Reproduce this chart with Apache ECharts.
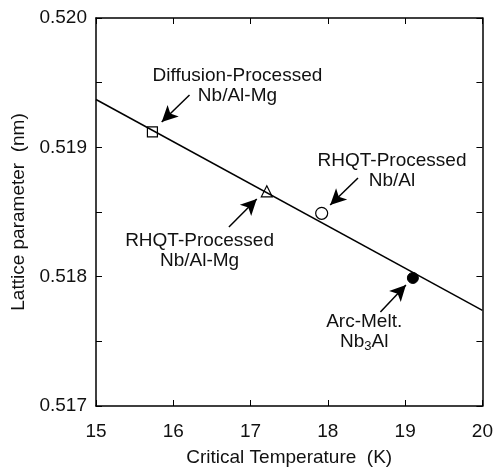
<!DOCTYPE html>
<html>
<head>
<meta charset="utf-8">
<script src="https://cdn.jsdelivr.net/npm/echarts@6/dist/echarts.min.js"></script>
<style>html,body{margin:0;padding:0;background:#fff;}#c{width:496px;height:472px;}</style>
</head>
<body>
<div id="c"></div>
<script>
// Data
var xTicks = [15, 16, 17, 18, 19, 20];
var yTicks = [0.517, 0.518, 0.519, 0.520];
var fitLineX = [15, 20];
var fitLineY = [0.51937, 0.51774];
var diffusionPoint = [15.73, 0.51912];
var rhqtMgPoint = [17.21, 0.51866];
var rhqtPoint = [17.92, 0.51849];
var arcMeltPoint = [19.10, 0.51799];
// Annotation arrows: [tailX, tailY, headX, headY]
var arrowDiffusion = [16.21, 0.519405, 15.85, 0.519196];
var arrowRhqt = [18.39, 0.518763, 18.03, 0.518554];
var arrowRhqtMg = [16.72, 0.518384, 17.08, 0.518601];
var arrowArc = [18.68, 0.517727, 19.01, 0.517936];
// Annotation label anchors [x, y]
var labelDiffusion = [16.83, 0.519478];
var labelRhqt = [18.83, 0.518817];
var labelRhqtMg = [16.34, 0.518198];
var labelArc = [18.47, 0.517572];

var FONT = '"Liberation Sans", Arial, Helvetica, sans-serif';
var chart = echarts.init(document.getElementById('c'));

function arrow(a) {
  return [{coord: [a[0], a[1]]}, {coord: [a[2], a[3]]}];
}
function lbl(p, text) {
  return {coord: p, value: text};
}

var axisLineStyle = {color: '#000', width: 1.5};
var option = {
  backgroundColor: '#fff',
  animation: false,
  grid: {left: 96, right: 11, top: 18, bottom: 66},
  xAxis: [{
    type: 'value', min: xTicks[0], max: xTicks[xTicks.length - 1], interval: 1,
    position: 'bottom',
    name: 'Critical Temperature  (K)', nameLocation: 'middle', nameGap: 42,
    nameTextStyle: {fontFamily: FONT, fontSize: 19, color: '#111'},
    axisLine: {show: true, lineStyle: axisLineStyle},
    axisTick: {show: true, inside: true, length: 6, lineStyle: {color: '#000', width: 1}},
    axisLabel: {fontFamily: FONT, fontSize: 19, color: '#111', margin: 16},
    splitLine: {show: false}
  }, {
    type: 'value', min: xTicks[0], max: xTicks[xTicks.length - 1], interval: 1,
    position: 'top',
    axisLine: {show: true, lineStyle: axisLineStyle},
    axisTick: {show: true, inside: true, length: 6, lineStyle: {color: '#000', width: 1}},
    axisLabel: {show: false},
    splitLine: {show: false}
  }],
  yAxis: [{
    type: 'value', min: yTicks[0], max: yTicks[yTicks.length - 1], interval: 0.001,
    position: 'left',
    name: 'Lattice parameter  (nm)', nameLocation: 'middle', nameGap: 64,
    nameTextStyle: {fontFamily: FONT, fontSize: 19, color: '#111'},
    axisLine: {show: true, lineStyle: axisLineStyle},
    axisTick: {show: true, inside: true, length: 6, lineStyle: {color: '#000', width: 1}},
    minorTick: {show: true, splitNumber: 2, length: 6, lineStyle: {color: '#000', width: 1}},
    axisLabel: {fontFamily: FONT, fontSize: 19, color: '#111', margin: 9,
      formatter: function (v) { return v.toFixed(3); }},
    splitLine: {show: false}
  }, {
    type: 'value', min: yTicks[0], max: yTicks[yTicks.length - 1], interval: 0.001,
    position: 'right',
    axisLine: {show: true, lineStyle: axisLineStyle},
    axisTick: {show: true, inside: true, length: 6, lineStyle: {color: '#000', width: 1}},
    minorTick: {show: true, splitNumber: 2, length: 6, lineStyle: {color: '#000', width: 1}},
    axisLabel: {show: false},
    splitLine: {show: false}
  }],
  series: [{
    type: 'line',
    data: [[fitLineX[0], fitLineY[0]], [fitLineX[1], fitLineY[1]]],
    showSymbol: false,
    lineStyle: {color: '#000', width: 1.5},
    markLine: {
      silent: true,
      symbol: ['none', 'arrow'],
      symbolSize: [12, 16],
      label: {show: false},
      lineStyle: {color: '#000', width: 1.5, type: 'solid'},
      emphasis: {disabled: true},
      data: [arrow(arrowDiffusion), arrow(arrowRhqt), arrow(arrowRhqtMg), arrow(arrowArc)]
    },
    markPoint: {
      silent: true,
      symbol: 'circle',
      symbolSize: 0,
      label: {
        show: true, position: 'inside', align: 'center', verticalAlign: 'middle',
        fontFamily: FONT, fontSize: 19, lineHeight: 20, color: '#111',
        formatter: function (p) { return p.value; },
        rich: {
          n: {fontFamily: FONT, fontSize: 19, lineHeight: 20, color: '#111'},
          s: {fontFamily: FONT, fontSize: 13, lineHeight: 20, color: '#111', padding: [9, 0, 0, 0]}
        }
      },
      data: [
        lbl(labelDiffusion, 'Diffusion-Processed\nNb/Al-Mg'),
        lbl(labelRhqt, 'RHQT-Processed\nNb/Al'),
        lbl(labelRhqtMg, 'RHQT-Processed\nNb/Al-Mg'),
        lbl(labelArc, '{n|Arc-Melt.}\n{n|Nb}{s|3}{n|Al}')
      ]
    }
  }, {
    type: 'scatter', data: [diffusionPoint], symbol: 'rect', symbolSize: 10,
    itemStyle: {color: '#fff', borderColor: '#000', borderWidth: 1.2, opacity: 1}
  }, {
    type: 'scatter', data: [rhqtMgPoint], symbol: 'triangle', symbolSize: 11,
    itemStyle: {color: '#fff', borderColor: '#000', borderWidth: 1.2, opacity: 1}
  }, {
    type: 'scatter', data: [rhqtPoint], symbol: 'circle', symbolSize: 12,
    itemStyle: {color: '#fff', borderColor: '#000', borderWidth: 1.2, opacity: 1}
  }, {
    type: 'scatter', data: [arcMeltPoint], symbol: 'circle', symbolSize: 11,
    itemStyle: {color: '#000', borderColor: '#000', borderWidth: 1, opacity: 1}
  }]
};
chart.setOption(option);
</script>
</body>
</html>
